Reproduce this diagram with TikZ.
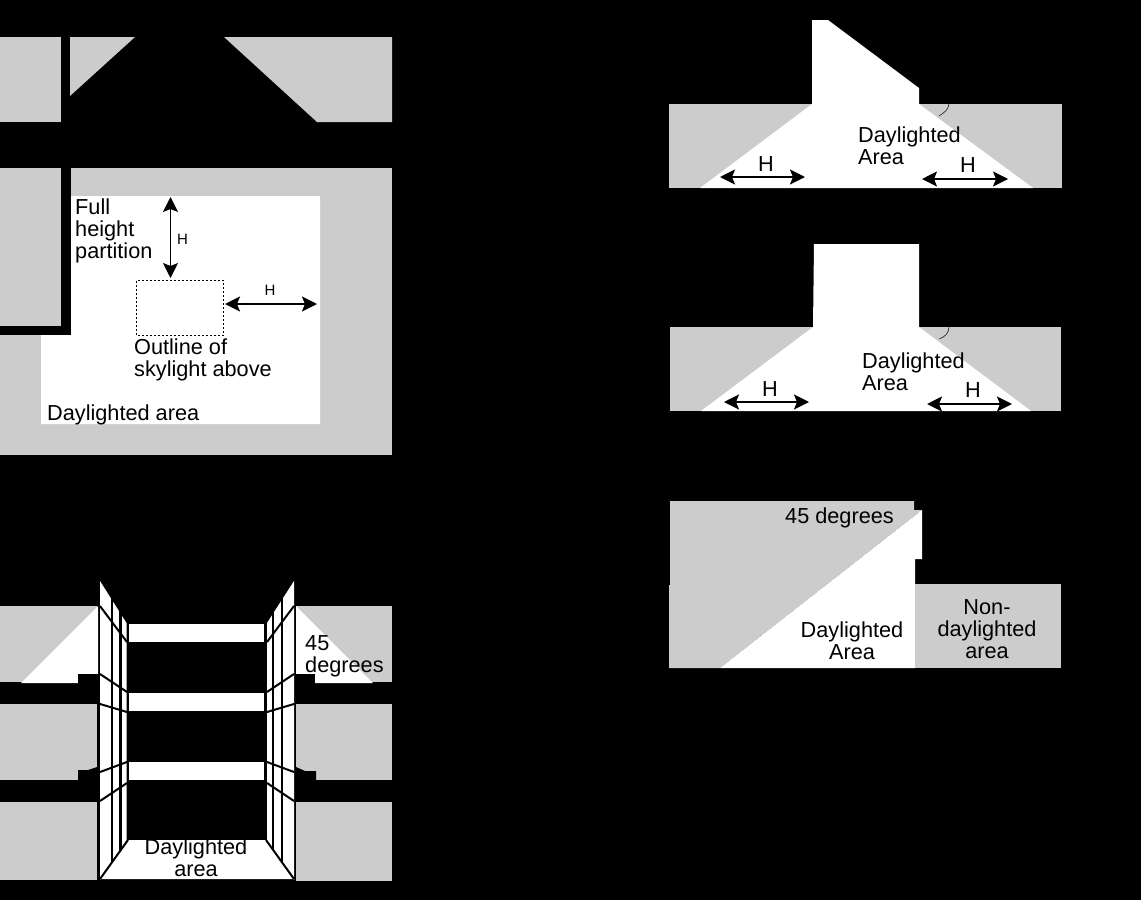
\documentclass[tikz,border=0pt]{standalone}
\usepackage{fontspec}
\setmainfont{Liberation Sans}
\usetikzlibrary{arrows.meta, positioning}
\definecolor{wallgray}{HTML}{CCCCCC}
\tikzstyle{gray block} = [fill=wallgray]
\tikzstyle{lit} = [fill=white]
\tikzstyle{label} = [inner sep=0pt, text=black, font=\fontsize{21.7}{22}\selectfont]
\tikzstyle{small label} = [inner sep=0pt, text=black, font=\fontsize{15}{15}\selectfont]
\tikzstyle{dim arrow} = [line width=2pt, {Stealth[length=15pt,width=15pt,inset=3pt]}-{Stealth[length=15pt,width=15pt,inset=3pt]}]
\tikzstyle{mullion} = [line width=2pt, black]

\begin{document}
\begin{tikzpicture}[x=1pt, y=-1pt]
    \fill[black] (0,0) rectangle (1141,900);
    \useasboundingbox (0,0) rectangle (1141,900);

    % plan above
    \fill[gray block] (0,37) rectangle (61,122);
    \fill[gray block] (70,37) -- (135,37) -- (70,96) -- cycle;
    \fill[gray block] (224,37) -- (392,37) -- (392,122) -- (317,122) -- cycle;

    % plan with partition
    \fill[gray block] (0,168) rectangle (392,455);
    \fill[black] (61,168) rectangle (71,335);
    \fill[black] (0,326) rectangle (71,335);
    \fill[lit] (71,196) -- (320,196) -- (320,424) -- (41,424) -- (41,335) -- (71,335) -- cycle;
    \draw[black, line width=0.8pt, dash pattern=on 2pt off 2pt] (136.5,280.5) rectangle (223.5,335);
    \coordinate (skytop) at (170.5,278);
    \coordinate (wallend) at (170.5,197);
    \coordinate (skyside) at (225,304);
    \coordinate (litend) at (317,304);
    \draw[dim arrow, line width=1.2pt] (wallend) -- (skytop);
    \draw[dim arrow] (skyside) -- (litend);
    \node[small label] (planhv) at (182.5,239.5) {H};
    \node[small label] (planhh) at (270,290) {H};
    \node[label, anchor=west, align=left] (partition) at (75,231) {Full\\height\\partition};
    \node[label, anchor=west, align=left] (outline) at (134,360) {Outline of\\skylight above};
    \node[label, anchor=west] (planarea) at (47,415) {Daylighted area};

    % section, left blocks
    \fill[gray block] (0,606) rectangle (97,682);
    \fill[lit] (98,606) -- (21,683) -- (78,683) -- (78,674) -- (98,674) -- cycle;
    \fill[black] (78,674) rectangle (100,684);
    \fill[gray block] (0,704) rectangle (97,780);
    \fill[black] (78,780) -- (78,770) -- (88,770) -- (97,767) -- (97,780) -- cycle;
    \fill[gray block] (0,802) rectangle (97,880);

    % section, right blocks
    \fill[gray block] (296,606) rectangle (392,682);
    \fill[lit] (296,606) -- (373,683) -- (315,683) -- (315,674) -- (296,674) -- cycle;
    \fill[black] (294,674) rectangle (315,684);
    \fill[gray block] (296,704) rectangle (392,780);
    \fill[black] (316,780) -- (316,771) -- (305,771) -- (296,767) -- (296,780) -- cycle;
    \fill[gray block] (296,802) rectangle (392,881);

    % corridor walls and floor
    \fill[lit] (100,581) -- (126.5,623) -- (126.5,840) -- (100,880) -- cycle;
    \fill[lit] (294,581) -- (267,623) -- (267,840) -- (294,880) -- cycle;
    \fill[lit] (100,879) -- (127,840) -- (267,840) -- (294,879) -- cycle;
    \fill[lit] (129,624) rectangle (264,642);
    \fill[lit] (129,693) rectangle (264,711);
    \fill[lit] (129,762) rectangle (264,780);

    % mullions
    \draw[mullion] (112,595) -- (112,862);
    \draw[mullion, line width=3pt] (120.5,610) -- (120.5,850);
    \draw[mullion] (282,595) -- (282,862);
    \draw[mullion] (272.5,610) -- (272.5,850);
    \draw[mullion] (100,606) -- (127,642);
    \draw[mullion] (100,674) -- (127,692);
    \draw[mullion] (100,704) -- (127,712);
    \draw[mullion] (100,772) -- (127,762);
    \draw[mullion] (100,801) -- (127,783);
    \draw[mullion] (100,879) -- (128,840);
    \draw[mullion] (294,606) -- (267,642);
    \draw[mullion] (294,674) -- (267,692);
    \draw[mullion] (294,704) -- (267,712);
    \draw[mullion] (294,772) -- (267,762);
    \draw[mullion] (294,801) -- (267,783);
    \draw[mullion] (294,879) -- (266,840);
    \node[label, anchor=west, align=left] (sectdeg) at (305,656) {45\\degrees};
    \node[label, align=center] (sectarea) at (196,858) {Daylighted\\area};

    % clerestory section
    \fill[gray block] (669,104) rectangle (1062,188);
    \fill[lit] (812,20) -- (828,20) -- (919,88) -- (919,104) -- (1033,188) -- (700,188) -- (812,104) -- cycle;
    \draw[black, line width=0.5pt] (949,104) .. controls (948,110) and (945,112) .. (939,116);
    \coordinate (cla) at (720,177);
    \coordinate (clb) at (805,177);
    \coordinate (clc) at (922,179);
    \coordinate (cld) at (1008,179);
    \draw[dim arrow] (cla) -- (clb);
    \draw[dim arrow, line width=1.2pt] (clc) -- (cld);
    \node[label] (clhl) at (766,164) {H};
    \node[label] (clhr) at (968,165) {H};
    \node[label, anchor=west, align=left] (clarea) at (858,146) {Daylighted\\Area};

    % skylight section
    \fill[gray block] (670,327) rectangle (1061,411);
    \fill[lit] (814,244) -- (919,244) -- (919,327) -- (1031,411) -- (701,411) -- (813,327) -- cycle;
    \draw[black, line width=0.5pt] (949,327) .. controls (949,333) and (945,337) .. (939,339);
    \coordinate (ska) at (724,402);
    \coordinate (skb) at (809,402);
    \coordinate (skc) at (927,404);
    \coordinate (skd) at (1012,404);
    \draw[dim arrow] (ska) -- (skb);
    \draw[dim arrow] (skc) -- (skd);
    \node[label] (skhl) at (770,389) {H};
    \node[label] (skhr) at (973,390) {H};
    \node[label, anchor=west, align=left] (skarea) at (862,371.5) {Daylighted\\Area};

    % side window section
    \fill[gray block] (670,501) -- (914,501) -- (914,510) -- (922,510) -- (720,668) -- (669,668) -- (669,585) -- (670,585) -- cycle;
    \fill[lit] (922,510) -- (922,559) -- (915,559) -- (915,668) -- (720,668) -- cycle;
    \fill[gray block] (915,584) rectangle (1061,668);
    \node[label, anchor=west] (sidedeg) at (785,518) {45 degrees};
    \node[label, align=center] (sidearea) at (852,641) {Daylighted\\Area};
    \node[label, align=center] (sidenon) at (987,629) {Non-\\daylighted\\area};
\end{tikzpicture}
\end{document}
